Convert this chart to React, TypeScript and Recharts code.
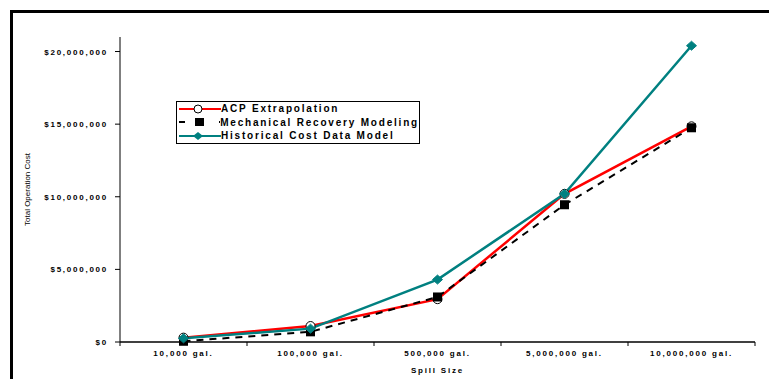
import React from "react";
import { LineChart, Line, XAxis, YAxis, Legend } from "recharts";

// Spill scenarios and estimated total operation cost (USD) per model
const categories = ["10,000 gal.", "100,000 gal.", "500,000 gal.", "5,000,000 gal.", "10,000,000 gal."];
const acpValues = [300000, 1100000, 2950000, 10200000, 14850000];
const mechanicalValues = [50000, 700000, 3100000, 9450000, 14750000];
const historicalValues = [250000, 920000, 4300000, 10200000, 20400000];
const yTicks = [0, 5000000, 10000000, 15000000, 20000000];

const data = categories.map((size, i) => ({
  size,
  acp: acpValues[i],
  mechanical: mechanicalValues[i],
  historical: historicalValues[i],
}));

const WIDTH = 769;
const HEIGHT = 379;
const MARGIN = { top: 37, right: 14, bottom: 0, left: 0 };
const Y_AXIS_WIDTH = 120;
const X_AXIS_HEIGHT = 37;
const BAND = (WIDTH - MARGIN.right - MARGIN.left - Y_AXIS_WIDTH) / categories.length;
const FONT = "'Liberation Sans', Arial, sans-serif";

const RED = "#FF0000";
const TEAL = "#008080";

const money = (v: number) => "$" + v.toLocaleString("en-US");

const CircleDot = (props: any) => {
  const { cx, cy } = props;
  if (cx == null || cy == null) return null;
  return <circle cx={cx} cy={cy} r={4.5} fill="#fff" stroke="#000" strokeWidth={1} />;
};

const SquareDot = (props: any) => {
  const { cx, cy } = props;
  if (cx == null || cy == null) return null;
  return <rect x={cx - 4.5} y={cy - 4.5} width={9} height={9} fill="#000" />;
};

const DiamondDot = (props: any) => {
  const { cx, cy } = props;
  if (cx == null || cy == null) return null;
  return (
    <polygon
      points={`${cx - 5},${cy} ${cx},${cy - 4.5} ${cx + 5},${cy} ${cx},${cy + 4.5}`}
      fill={TEAL}
      stroke={TEAL}
    />
  );
};

const XTick = (props: any) => {
  const { x, y, payload, index } = props;
  const last = index === categories.length - 1;
  return (
    <g>
      <line x1={x - BAND / 2} y1={y} x2={x - BAND / 2} y2={y + 4} stroke="#000" />
      {last && <line x1={x + BAND / 2} y1={y} x2={x + BAND / 2} y2={y + 4} stroke="#000" />}
      <text
        x={x}
        y={y + 14}
        textAnchor="middle"
        fontSize={8}
        fontWeight={700}
        fontFamily={FONT}
        fill="#000"
        style={{ letterSpacing: 1.8 }}
      >
        {payload.value}
      </text>
    </g>
  );
};

const YTick = (props: any) => {
  const { x, y, payload } = props;
  return (
    <text
      x={x}
      y={y + 3}
      textAnchor="end"
      fontSize={8}
      fontWeight={700}
      fontFamily={FONT}
      fill="#000"
      style={{ letterSpacing: 1.75 }}
    >
      {money(payload.value)}
    </text>
  );
};

const legendRows = [
  { name: "ACP Extrapolation", kind: "acp" },
  { name: "Mechanical Recovery Modeling", kind: "mechanical" },
  { name: "Historical Cost Data Model", kind: "historical" },
];

const LegendIcon = ({ kind }: { kind: string }) => (
  <svg width={44} height={14} style={{ display: "block" }}>
    {kind === "acp" && (
      <>
        <line x1={2} y1={7} x2={44} y2={7} stroke={RED} strokeWidth={2} />
        <circle cx={21} cy={7} r={4} fill="#fff" stroke="#000" />
      </>
    )}
    {kind === "mechanical" && (
      <>
        <line x1={2} y1={7} x2={44} y2={7} stroke="#000" strokeWidth={2} strokeDasharray="6 34 2" />
        <rect x={18} y={3} width={9} height={8} fill="#000" />
      </>
    )}
    {kind === "historical" && (
      <>
        <line x1={2} y1={7} x2={44} y2={7} stroke={TEAL} strokeWidth={2} />
        <polygon points="16,7 21,3 26,7 21,11" fill={TEAL} />
      </>
    )}
  </svg>
);

const LegendBox = () => (
  <div
    style={{
      border: "1px solid #000",
      background: "#fff",
      width: 242,
      fontFamily: FONT,
    }}
  >
    {legendRows.map((row) => (
      <div key={row.kind} style={{ display: "flex", alignItems: "center", height: 13.5 }}>
        <LegendIcon kind={row.kind} />
        <span style={{ fontSize: 10, fontWeight: 700, letterSpacing: 1.8, whiteSpace: "nowrap", lineHeight: "13px" }}>
          {row.name}
        </span>
      </div>
    ))}
  </div>
);

export default function App() {
  return (
    <div
      style={{
        position: "fixed",
        left: 0,
        top: 0,
        width: WIDTH,
        height: HEIGHT,
        overflow: "hidden",
        background: "#fff",
      }}
    >
      {/* outer frame, running off the right and bottom edges */}
      <div
        style={{
          position: "absolute",
          left: 10,
          top: 10,
          width: 820,
          height: 420,
          border: "3px solid #000",
        }}
      />
      <div style={{ position: "absolute", left: 0, top: 0 }}>
        <LineChart width={WIDTH} height={HEIGHT} data={data} margin={MARGIN}>
          <XAxis
            dataKey="size"
            scale="band"
            height={X_AXIS_HEIGHT}
            axisLine={{ stroke: "#000", strokeWidth: 1.5 }}
            tickLine={false}
            tickSize={0}
            tickMargin={0}
            interval={0}
            tick={<XTick />}
            label={{
              value: "Spill Size",
              position: "insideBottom",
              offset: 6,
              style: { fontSize: 8, fontWeight: 700, fontFamily: FONT, fill: "#000", letterSpacing: 1.8 },
            }}
          />
          <XAxis xAxisId="frame" orientation="top" dataKey="size" height={0} tick={false} tickLine={false} axisLine={{ stroke: "#999" }} />
          <YAxis
            width={Y_AXIS_WIDTH}
            domain={[0, 21000000]}
            ticks={yTicks}
            interval={0}
            axisLine={{ stroke: "#000", strokeWidth: 1 }}
            tickLine={{ stroke: "#000" }}
            tickSize={5}
            tickMargin={7}
            tick={<YTick />}
            label={{
              value: "Total Operation Cost",
              angle: -90,
              position: "insideLeft",
              offset: 27,
              style: { fontSize: 8, fontFamily: FONT, fill: "#000", textAnchor: "middle" },
            }}
          />
          <YAxis yAxisId="frame" orientation="right" width={0} tick={false} tickLine={false} axisLine={{ stroke: "#999" }} />
          <Legend
            layout="vertical"
            align="center"
            verticalAlign="middle"
            wrapperStyle={{ left: 176, top: 101, width: "auto" }}
            content={<LegendBox />}
          />
          <Line
            dataKey="acp"
            name="ACP Extrapolation"
            stroke={RED}
            strokeWidth={2.5}
            dot={<CircleDot />}
            activeDot={false}
            isAnimationActive={false}
          />
          <Line
            dataKey="mechanical"
            name="Mechanical Recovery Modeling"
            stroke="#000"
            strokeWidth={2}
            strokeDasharray="7 6"
            dot={<SquareDot />}
            activeDot={false}
            isAnimationActive={false}
          />
          <Line
            dataKey="historical"
            name="Historical Cost Data Model"
            stroke={TEAL}
            strokeWidth={2.5}
            dot={<DiamondDot />}
            activeDot={false}
            isAnimationActive={false}
          />
        </LineChart>
      </div>
    </div>
  );
}
